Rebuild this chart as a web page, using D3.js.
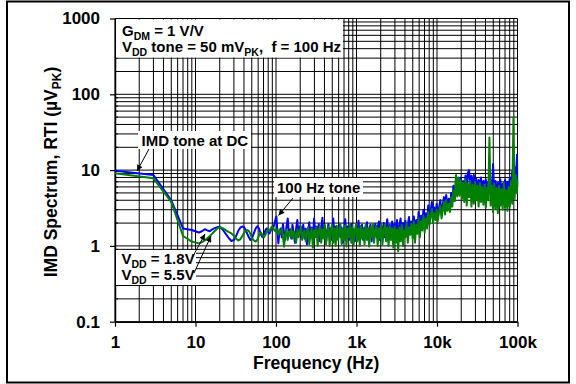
<!DOCTYPE html>
<html><head><meta charset="utf-8">
<script src="https://cdn.jsdelivr.net/npm/d3@7"></script>
<style>
body{margin:0;background:#fff}
svg text{font-family:"Liberation Sans",Arial,sans-serif;font-weight:bold;fill:#000;white-space:pre}
</style>
</head><body><svg id="c" width="576" height="384"></svg>
<script>
// ---- data (frequency in Hz, IMD spectrum in µV_PK) ----
const freq = [
  1, 3, 5, 7, 9, 11, 12, 13, 14, 15,
  16, 17, 18, 19, 20, 22, 24, 26, 28, 30,
  32, 34, 36, 38, 40, 42, 44, 46, 48, 50,
  53, 56, 59, 62, 65, 68, 71, 74, 77, 80,
  83, 86, 89, 92, 95, 98, 101, 104, 107, 110,
  114, 118, 122, 126, 130, 135, 140, 145, 150, 155,
  160, 166, 172, 178, 184, 190, 197, 204, 211, 218,
  226, 234, 242, 250, 259, 268, 277, 287, 297, 307,
  318, 329, 340, 352, 364, 377, 390, 404, 418, 433,
  448, 464, 480, 497, 514, 532, 551, 570, 590, 611,
  632, 654, 677, 701, 725, 750, 777, 804, 832, 861,
  891, 922, 955, 988, 1020, 1060, 1100, 1130, 1170, 1210,
  1260, 1300, 1350, 1390, 1440, 1490, 1540, 1600, 1650, 1710,
  1770, 1830, 1900, 1960, 2030, 2100, 2180, 2250, 2330, 2410,
  2500, 2590, 2680, 2770, 2870, 2970, 3070, 3180, 3290, 3410,
  3530, 3650, 3780, 3910, 4050, 4190, 4340, 4490, 4650, 4810,
  4980, 5150, 5330, 5520, 5710, 5910, 6120, 6330, 6550, 6780,
  7020, 7270, 7520, 7780, 8060, 8340, 8630, 8930, 9240, 9570,
  9900, 10200, 10600, 11000, 11400, 11800, 12200, 12600, 13000, 13500,
  14000, 14500, 15000, 15500, 16000, 16600, 17200, 17800, 18400, 19000,
  19700, 20400, 21100, 21800, 22600, 23400, 24200, 25000, 25900, 26800,
  27700, 28700, 29700, 30700, 31800, 32900, 34000, 35200, 36400, 37700,
  39000, 40400, 41800, 43300, 44800, 46400, 48000, 49700, 51400, 53200,
  55100, 57000, 59000, 61100, 63200, 65400, 67700, 70100, 72500, 75000,
  77600, 80300, 83100, 86000, 89000, 92100, 95300, 98600, 100000
];
const vdd18 = [
  9.8, 8.6, 4.0, 1.70, 1.62, 1.50, 1.56, 1.66, 1.60, 1.56,
  1.64, 1.70, 1.74, 1.78, 1.79, 1.62, 1.42, 1.26, 1.16, 1.20,
  1.36, 1.58, 1.74, 1.80, 1.78, 1.62, 1.44, 1.30, 1.20, 1.24,
  1.46, 1.70, 1.82, 1.66, 1.40, 1.30, 1.42, 1.62, 1.70, 1.52,
  1.46, 1.60, 1.76, 1.70, 1.92, 2.20, 2.45, 1.60, 1.08, 1.50,
  1.70, 1.30, 1.95, 1.45, 1.20, 1.80, 2.30, 1.40, 1.65, 1.25,
  1.90, 1.50, 1.10, 1.70, 2.20, 1.35, 1.80, 1.30, 1.60, 1.90,
  1.25, 1.70, 1.05, 1.55, 2.05, 1.40, 1.75, 1.20, 2.30, 1.50,
  1.80, 1.30, 1.95, 1.15, 1.70, 2.35, 1.35, 1.85, 1.10, 1.60,
  1.95, 1.30, 1.70, 1.20, 2.30, 1.45, 1.80, 1.25, 1.65, 1.90,
  1.30, 1.75, 1.10, 1.60, 2.25, 1.35, 1.80, 1.20, 1.70, 1.95,
  1.30, 1.65, 1.15, 1.85, 1.40, 2.15, 1.25, 1.70, 1.90, 1.20,
  1.75, 1.35, 2.05, 1.25, 1.65, 1.90, 1.15, 1.80, 1.40, 1.95,
  1.30, 1.75, 2.10, 1.20, 1.85, 1.45, 2.00, 1.30, 1.70, 2.25,
  1.35, 1.90, 1.25, 2.10, 1.50, 1.95, 1.30, 2.20, 1.45, 1.85,
  2.30, 1.40, 2.00, 1.55, 2.15, 1.35, 1.90, 2.40, 1.50, 2.10,
  1.60, 2.45, 1.45, 2.20, 1.70, 2.80, 1.60, 2.50, 1.90, 3.00,
  1.80, 2.70, 2.00, 3.40, 2.10, 2.90, 3.80, 2.20, 3.20, 2.50,
  3.60, 2.40, 3.20, 4.00, 2.60, 3.50, 4.40, 2.90, 4.70, 3.30,
  4.20, 3.10, 5.00, 3.80, 6.20, 4.20, 7.00, 4.80, 7.80, 5.00,
  8.00, 5.40, 7.20, 4.60, 8.50, 5.80, 9.20, 10.0, 6.00, 8.40,
  5.20, 8.60, 6.00, 7.80, 4.80, 7.40, 5.60, 8.00, 4.60, 7.20,
  5.40, 7.60, 4.80, 7.00, 5.20, 7.40, 4.60, 12.0, 5.00, 7.20,
  4.60, 6.80, 5.20, 7.60, 4.40, 6.60, 5.40, 7.40, 4.80, 7.00,
  5.60, 8.00, 6.20, 9.60, 6.00, 11.0, 7.00, 16.0, 6.00
];
const vdd55 = [
  9.1, 7.8, 3.8, 1.35, 1.14, 1.08, 1.12, 1.18, 1.26, 1.34,
  1.44, 1.54, 1.64, 1.72, 1.76, 1.70, 1.60, 1.52, 1.46, 1.36,
  1.24, 1.18, 1.22, 1.34, 1.48, 1.58, 1.62, 1.58, 1.44, 1.28,
  1.18, 1.14, 1.22, 1.42, 1.50, 1.38, 1.30, 1.40, 1.56, 1.64,
  1.58, 1.70, 1.80, 1.74, 1.62, 1.55, 1.66, 1.58, 1.40, 1.62,
  1.50, 1.70, 1.30, 0.98, 1.40, 1.62, 1.20, 1.55, 1.35, 1.70,
  1.25, 1.55, 1.40, 1.10, 1.65, 1.30, 1.50, 1.80, 1.20, 1.45,
  1.60, 1.15, 1.50, 1.75, 1.05, 1.40, 1.70, 0.95, 1.60, 1.30,
  1.75, 1.00, 1.55, 1.85, 1.10, 1.65, 1.25, 1.90, 1.05, 1.50,
  1.80, 1.00, 1.60, 1.90, 1.10, 1.70, 1.00, 1.85, 1.20, 1.55,
  1.95, 1.05, 1.65, 1.20, 1.85, 0.98, 1.70, 1.30, 1.90, 1.10,
  1.75, 1.05, 1.60, 1.95, 1.15, 1.70, 1.00, 1.85, 1.25, 1.65,
  1.05, 1.90, 1.20, 1.70, 0.98, 1.80, 1.30, 1.95, 1.10, 1.60,
  1.85, 1.00, 1.70, 1.25, 1.95, 1.05, 1.60, 1.90, 1.15, 1.75,
  1.00, 1.85, 1.20, 1.70, 0.95, 1.80, 1.10, 1.65, 0.85, 1.75,
  1.15, 1.90, 1.00, 1.60, 1.30, 2.00, 1.10, 1.75, 1.40, 1.95,
  1.25, 2.10, 1.10, 1.90, 1.45, 2.30, 1.30, 2.10, 1.60, 2.50,
  1.50, 2.30, 1.70, 2.80, 1.90, 2.50, 3.10, 2.00, 2.70, 2.20,
  3.00, 2.10, 2.80, 3.40, 2.30, 3.00, 3.80, 2.60, 4.00, 2.90,
  3.60, 2.80, 4.40, 3.30, 5.40, 3.90, 8.60, 4.50, 8.00, 4.60,
  7.40, 4.20, 6.80, 3.80, 7.60, 3.40, 6.60, 4.40, 7.20, 3.30,
  6.40, 3.60, 7.00, 4.00, 6.20, 3.30, 6.80, 3.80, 6.00, 3.50,
  6.40, 3.20, 5.80, 4.00, 27.0, 3.40, 6.20, 2.80, 6.60, 3.10,
  5.80, 2.70, 6.20, 3.40, 5.60, 3.00, 6.80, 3.20, 5.40, 2.90,
  6.00, 3.30, 7.20, 3.60, 50.0, 4.20, 8.60, 5.00, 7.50
];
const xTickValues = [1, 10, 100, 1000, 10000, 100000];
const xTickLabels = ["1", "10", "100", "1k", "10k", "100k"];
const yTickValues = [0.1, 1, 10, 100, 1000];
const yTickLabels = ["0.1", "1", "10", "100", "1000"];
const seriesColors = ["#0000ff", "#008000"];

// ---- drawing ----
const svg = d3.select("#c");
const L = 115, R = 517.5, T = 18.5, B = 321.7;
const x = d3.scaleLog().domain([1, 100000]).range([L, R]);
const y = d3.scaleLog().domain([0.1, 1000]).range([B, T]);

// outer frame
svg.append("rect").attr("x", 7).attr("y", 1.5).attr("width", 562).attr("height", 381)
  .attr("fill", "none").attr("stroke", "#000").attr("stroke-width", 2);

// grid
const xGrid = [], yGrid = [];
for (let d = 1; d < 100000; d *= 10) for (let k = 1; k < 10; k++) xGrid.push(d * k);
xGrid.push(100000);
for (let d = 0.1; d < 999; d *= 10) for (let k = 1; k < 10; k++) yGrid.push(+(d * k).toPrecision(3));
yGrid.push(1000);
const grid = svg.append("g").attr("stroke", "#000").attr("stroke-width", 1);
grid.selectAll("line.v").data(xGrid).join("line").attr("class", "v")
  .attr("x1", d => x(d)).attr("x2", d => x(d)).attr("y1", T).attr("y2", B);
grid.selectAll("line.h").data(yGrid).join("line").attr("class", "h")
  .attr("x1", L).attr("x2", R).attr("y1", d => y(d)).attr("y2", d => y(d));

// axes
const xAxis = svg.append("g").attr("transform", `translate(0,${B})`)
  .call(d3.axisBottom(x).tickValues(xTickValues).tickFormat((d, i) => xTickLabels[i])
    .tickSize(5).tickSizeOuter(0).tickPadding(9));
const yAxis = svg.append("g").attr("transform", `translate(${L},0)`)
  .call(d3.axisLeft(y).tickValues(yTickValues).tickFormat((d, i) => yTickLabels[i])
    .tickSize(5).tickSizeOuter(0).tickPadding(10));
[xAxis, yAxis].forEach(a => {
  a.selectAll("text").attr("font-size", 17).attr("font-family", null).attr("fill", "#000");
  a.select(".domain").attr("stroke", "#000").attr("stroke-width", 1.5);
  a.selectAll(".tick line").attr("stroke", "#000").attr("stroke-width", 1.2);
});
// minor inward ticks on y axis
const minorY = yGrid.filter(v => !yTickValues.includes(v));
svg.append("g").selectAll("line").data(minorY).join("line")
  .attr("x1", L).attr("x2", L + 3).attr("y1", d => y(d)).attr("y2", d => y(d))
  .attr("stroke", "#000").attr("stroke-width", 1);

// data lines
svg.append("clipPath").attr("id", "pc").append("rect")
  .attr("x", L).attr("y", T - 1).attr("width", R - L + 1).attr("height", B - T + 1);
const line = d3.line().x(d => x(d[0])).y(d => y(d[1]));
const seriesData = [vdd18, vdd55].map(vals => freq.map((f, i) => [f, vals[i]]));
svg.append("g").attr("clip-path", "url(#pc)").selectAll("path").data(seriesData).join("path")
  .attr("d", line).attr("fill", "none")
  .attr("stroke", (d, i) => seriesColors[i]).attr("stroke-width", 2)
  .attr("stroke-linejoin", "round");

// rich text helper (subscripts)
function rich(g, xx, yb, parts, size) {
  const t = g.append("text").attr("x", xx).attr("y", yb).attr("font-size", size);
  let shift = 0;
  parts.forEach(([s, sub]) => {
    const target = sub ? 4 : 0;
    t.append("tspan").attr("dy", target - shift).attr("font-size", sub ? size * 0.7 : size).text(s);
    shift = target;
  });
  return t;
}
function box(xx, yy, w, h) {
  svg.append("rect").attr("x", xx).attr("y", yy).attr("width", w).attr("height", h).attr("fill", "#fff");
}
// arrow marker
svg.append("defs").append("marker").attr("id", "ah").attr("viewBox", "0 0 10 10")
  .attr("refX", 10).attr("refY", 5).attr("markerWidth", 7).attr("markerHeight", 6)
  .attr("markerUnits", "userSpaceOnUse").attr("orient", "auto")
  .append("path").attr("d", "M0,0L10,5L0,10z").attr("fill", "#000");
function arrow(x1, y1, x2, y2) {
  svg.append("line").attr("x1", x1).attr("y1", y1).attr("x2", x2).attr("y2", y2)
    .attr("stroke", "#000").attr("stroke-width", 1).attr("marker-end", "url(#ah)");
}

// annotation: conditions
box(L + 1, T + 1, 227, 38);
rich(svg, 122, 35.5, [["G"], ["DM", 1], [" = 1 V/V"]], 15);
rich(svg, 122, 52, [["V"], ["DD", 1], [" tone = 50 mV"], ["PK", 1], [",  f = 100 Hz"]], 15);

// annotation: IMD tone at DC
box(138, 131, 113, 18);
svg.append("text").attr("x", 141.5).attr("y", 145.5).attr("font-size", 15).text("IMD tone at DC");
arrow(149, 149, 137, 171);

// annotation: 100 Hz tone
box(274, 178, 89, 19);
svg.append("text").attr("x", 277).attr("y", 193).attr("font-size", 15).text("100 Hz tone");
arrow(293, 198, 278.5, 215.5);

// legend labels
box(L + 1, 250, 80, 35);
rich(svg, 121.5, 263.5, [["V"], ["DD", 1], [" = 1.8V"]], 15);
rich(svg, 121.5, 280, [["V"], ["DD", 1], [" = 5.5V"]], 15);
arrow(192, 258, 205, 234);
arrow(194, 273, 211, 236);

// axis titles
svg.append("text").attr("x", (L + R) / 2).attr("y", 368.5).attr("text-anchor", "middle")
  .attr("font-size", 17.5).text("Frequency (Hz)");
const yt = svg.append("text").attr("transform", "translate(56.5,172) rotate(-90)")
  .attr("text-anchor", "middle").attr("font-size", 17.5);
yt.append("tspan").text("IMD Spectrum, RTI (µV");
yt.append("tspan").attr("dy", 4).attr("font-size", 12).text("PK");
yt.append("tspan").attr("dy", -4).text(")");
</script>
</body></html>
